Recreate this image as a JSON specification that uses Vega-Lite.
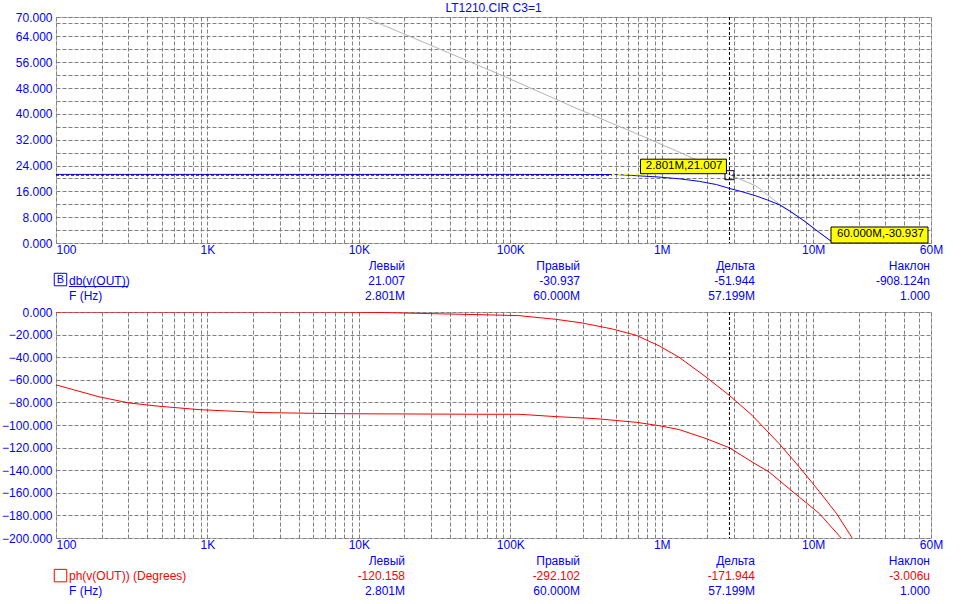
{
  "$schema": "https://vega.github.io/schema/vega-lite/v6.json",
  "background": "white",
  "padding": {"left": 1, "top": 1, "right": 0, "bottom": 0},
  "spacing": 0,
  "bounds": "flush",
  "config": {
    "font": "Liberation Sans",
    "view": {"stroke": "#808080", "strokeDash": [1, 1]},
    "axis": {
      "ticks": false, "tickSize": 0, "domain": false, "grid": true,
      "gridColor": "#808080", "gridDash": [4, 2], "gridWidth": 1, "gridOpacity": 1,
      "labelColor": "#0000FF", "labelFont": "Liberation Sans", "labelFontSize": 12,
      "labelOverlap": false
    },
    "axisX": {"labelPadding": 1},
    "axisY": {"labelPadding": 4}
  },
  "datasets": {
    "gain": [
      {"series": "ref", "f": 10800, "v": 70},
      {"series": "ref", "f": 84300, "v": 52.3},
      {"series": "ref", "f": 271000, "v": 41.8},
      {"series": "ref", "f": 826000, "v": 32.2},
      {"series": "ref", "f": 1240000, "v": 28.6},
      {"series": "ref", "f": 2920000, "v": 20.8},
      {"series": "ref", "f": 4180000, "v": 17.7},
      {"series": "ref", "f": 5960000, "v": 12.1},
      {"series": "ref", "f": 8450000, "v": 7.4},
      {"series": "ref", "f": 13100000, "v": 0.6},
      {"series": "ref", "f": 13600000, "v": -0.2},
      {"series": "db", "f": 100, "v": 21.25},
      {"series": "db", "f": 100000, "v": 21.25},
      {"series": "db", "f": 500000, "v": 21.2},
      {"series": "db", "f": 914000, "v": 20.5},
      {"series": "db", "f": 1300000, "v": 19.9},
      {"series": "db", "f": 1770000, "v": 19.1},
      {"series": "db", "f": 2300000, "v": 18.1},
      {"series": "db", "f": 2801000, "v": 16.9},
      {"series": "db", "f": 3500000, "v": 15.7},
      {"series": "db", "f": 4190000, "v": 14.6},
      {"series": "db", "f": 5000000, "v": 13.3},
      {"series": "db", "f": 5960000, "v": 11.9},
      {"series": "db", "f": 7000000, "v": 9.9},
      {"series": "db", "f": 8450000, "v": 7.3},
      {"series": "db", "f": 11000000, "v": 3.2},
      {"series": "db", "f": 13100000, "v": 0.6},
      {"series": "db", "f": 20000000, "v": -7},
      {"series": "db", "f": 30000000, "v": -15},
      {"series": "db", "f": 45000000, "v": -24},
      {"series": "db", "f": 60000000, "v": -30.937}
    ],
    "phase": [
      {"series": "a", "f": 100, "v": 0},
      {"series": "a", "f": 7400, "v": 0},
      {"series": "a", "f": 14700, "v": -0.5},
      {"series": "a", "f": 29100, "v": -1.4},
      {"series": "a", "f": 59400, "v": -2.3},
      {"series": "a", "f": 114000, "v": -3.2},
      {"series": "a", "f": 201000, "v": -6.5},
      {"series": "a", "f": 298000, "v": -9.7},
      {"series": "a", "f": 471000, "v": -15},
      {"series": "a", "f": 678000, "v": -20.6},
      {"series": "a", "f": 962000, "v": -30},
      {"series": "a", "f": 1300000, "v": -40},
      {"series": "a", "f": 1960000, "v": -57.5},
      {"series": "a", "f": 2790000, "v": -73.7},
      {"series": "a", "f": 3950000, "v": -91.4},
      {"series": "a", "f": 5960000, "v": -116.5},
      {"series": "a", "f": 8080000, "v": -137},
      {"series": "a", "f": 11000000, "v": -159},
      {"series": "a", "f": 14200000, "v": -178},
      {"series": "a", "f": 18100000, "v": -200},
      {"series": "a", "f": 30000000, "v": -250},
      {"series": "a", "f": 60000000, "v": -330},
      {"series": "b", "f": 100, "v": -64.5},
      {"series": "b", "f": 192, "v": -75},
      {"series": "b", "f": 303, "v": -80.5},
      {"series": "b", "f": 479, "v": -83.4},
      {"series": "b", "f": 880, "v": -86.4},
      {"series": "b", "f": 2300, "v": -89},
      {"series": "b", "f": 7400, "v": -90},
      {"series": "b", "f": 59400, "v": -90.5},
      {"series": "b", "f": 114000, "v": -90.5},
      {"series": "b", "f": 201000, "v": -92.6},
      {"series": "b", "f": 369000, "v": -94.4},
      {"series": "b", "f": 678000, "v": -97.6},
      {"series": "b", "f": 962000, "v": -100.6},
      {"series": "b", "f": 1300000, "v": -104},
      {"series": "b", "f": 1960000, "v": -112},
      {"series": "b", "f": 2801000, "v": -120.158},
      {"series": "b", "f": 3950000, "v": -132.7},
      {"series": "b", "f": 5120000, "v": -141.6},
      {"series": "b", "f": 5960000, "v": -149},
      {"series": "b", "f": 8080000, "v": -163.7},
      {"series": "b", "f": 11000000, "v": -178.4},
      {"series": "b", "f": 15300000, "v": -200},
      {"series": "b", "f": 60000000, "v": -292.102}
    ],
    "hcur": [
      {"kind": "cursor", "f1": 100, "f2": 468000, "v": 21.007},
      {"kind": "cursor", "f1": 2900000, "f2": 60000000, "v": 21.007},
      {"kind": "xor", "f1": 468000, "f2": 918000, "v": 21.25}
    ],
    "tags": [
      {"id": "L", "f": 2801000, "v": 21.007, "text": "2.801M,21.007"},
      {"id": "R", "f": 60000000, "v": 0, "text": "60.000M,-30.937"}
    ],
    "table": [
      {"panel": "db", "row": "h", "col": "Левый", "text": "Левый", "trace": "axis"},
      {"panel": "db", "row": "h", "col": "Правый", "text": "Правый", "trace": "axis"},
      {"panel": "db", "row": "h", "col": "Дельта", "text": "Дельта", "trace": "axis"},
      {"panel": "db", "row": "h", "col": "Наклон", "text": "Наклон", "trace": "axis"},
      {"panel": "db", "row": "v", "col": "Левый", "text": "21.007", "trace": "db"},
      {"panel": "db", "row": "v", "col": "Правый", "text": "-30.937", "trace": "db"},
      {"panel": "db", "row": "v", "col": "Дельта", "text": "-51.944", "trace": "db"},
      {"panel": "db", "row": "v", "col": "Наклон", "text": "-908.124n", "trace": "db"},
      {"panel": "db", "row": "f", "col": "Левый", "text": "2.801M", "trace": "axis"},
      {"panel": "db", "row": "f", "col": "Правый", "text": "60.000M", "trace": "axis"},
      {"panel": "db", "row": "f", "col": "Дельта", "text": "57.199M", "trace": "axis"},
      {"panel": "db", "row": "f", "col": "Наклон", "text": "1.000", "trace": "axis"},
      {"panel": "db", "row": "v", "col": "name", "text": "db(v(OUT))", "trace": "db"},
      {"panel": "db", "row": "f", "col": "name", "text": "F (Hz)", "trace": "axis"},
      {"panel": "ph", "row": "h", "col": "Левый", "text": "Левый", "trace": "axis"},
      {"panel": "ph", "row": "h", "col": "Правый", "text": "Правый", "trace": "axis"},
      {"panel": "ph", "row": "h", "col": "Дельта", "text": "Дельта", "trace": "axis"},
      {"panel": "ph", "row": "h", "col": "Наклон", "text": "Наклон", "trace": "axis"},
      {"panel": "ph", "row": "v", "col": "Левый", "text": "-120.158", "trace": "ph"},
      {"panel": "ph", "row": "v", "col": "Правый", "text": "-292.102", "trace": "ph"},
      {"panel": "ph", "row": "v", "col": "Дельта", "text": "-171.944", "trace": "ph"},
      {"panel": "ph", "row": "v", "col": "Наклон", "text": "-3.006u", "trace": "ph"},
      {"panel": "ph", "row": "f", "col": "Левый", "text": "2.801M", "trace": "axis"},
      {"panel": "ph", "row": "f", "col": "Правый", "text": "60.000M", "trace": "axis"},
      {"panel": "ph", "row": "f", "col": "Дельта", "text": "57.199M", "trace": "axis"},
      {"panel": "ph", "row": "f", "col": "Наклон", "text": "1.000", "trace": "axis"},
      {"panel": "ph", "row": "v", "col": "name", "text": "ph(v(OUT)) (Degrees)", "trace": "ph"},
      {"panel": "ph", "row": "f", "col": "name", "text": "F (Hz)", "trace": "axis"}
    ]
  },
  "vconcat": [
    {
      "width": 875,
      "height": 226,
      "title": {"text": "LT1210.CIR C3=1", "color": "#0000FF", "font": "Liberation Sans", "fontSize": 12, "fontWeight": "normal", "anchor": "middle", "frame": "group", "offset": -13, "baseline": "alphabetic"},
      "layer": [
        {
          "data": {"name": "gain"},
          "mark": {"type": "line", "clip": true, "strokeWidth": 1},
          "encoding": {
            "x": {"field": "f", "type": "quantitative",
              "scale": {"type": "log", "domain": [100, 60000000], "nice": false},
              "axis": {"title": null, "labelOverlap": false, "tickCount": 200,
                "values": [100,200,300,400,500,600,700,800,900,1000,2000,3000,4000,5000,6000,7000,8000,9000,10000,20000,30000,40000,50000,60000,70000,80000,90000,100000,200000,300000,400000,500000,600000,700000,800000,900000,1000000,2000000,3000000,4000000,5000000,6000000,7000000,8000000,9000000,10000000,20000000,30000000,40000000,50000000,60000000],
                "labelExpr": "datum.value == 100 ? '100' : datum.value == 1000 ? '1K' : datum.value == 10000 ? '10K' : datum.value == 100000 ? '100K' : datum.value == 1000000 ? '1M' : datum.value == 10000000 ? '10M' : datum.value == 60000000 ? '60M' : ''",
                "labelAlign": {"condition": {"test": "datum.value <= 100", "value": "left"}, "value": "center"}}},
            "y": {"field": "v", "type": "quantitative",
              "scale": {"domain": [0, 70], "nice": false, "zero": false},
              "axis": {"title": null, "format": ".3f", "labelOverlap": false, "tickCount": 100,
                "values": [0,4,8,12,16,20,24,28,32,36,40,44,48,52,56,60,64,68,70],
                "labelExpr": "(datum.value % 8 == 0 || datum.value == 70) ? datum.label : ''"}},
            "color": {"field": "series", "type": "nominal",
              "scale": {"domain": ["ref", "db", "axis", "ph"], "range": ["#B4B4B4", "#0000FF", "#0000FF", "#FF0000"]}, "legend": null},
            "order": {"field": "f", "type": "quantitative"}
          }
        },
        {
          "data": {"name": "hcur"},
          "transform": [{"filter": "datum.kind == 'cursor'"}],
          "mark": {"type": "rule", "color": "#000000", "strokeDash": [3, 2], "strokeWidth": 1},
          "encoding": {"x": {"field": "f1", "type": "quantitative"}, "x2": {"field": "f2"}, "y": {"field": "v", "type": "quantitative"}}
        },
        {
          "data": {"name": "hcur"},
          "transform": [{"filter": "datum.kind == 'xor'"}],
          "mark": {"type": "rule", "color": "#FFFF00", "strokeDash": [3, 3], "strokeWidth": 1.5},
          "encoding": {"x": {"field": "f1", "type": "quantitative"}, "x2": {"field": "f2"}, "y": {"field": "v", "type": "quantitative"}}
        },
        {
          "data": {"values": [{"f": 2801000}]},
          "mark": {"type": "rule", "color": "#000000", "strokeDash": [3, 2], "strokeWidth": 1},
          "encoding": {"x": {"field": "f", "type": "quantitative"}}
        },
        {
          "data": {"name": "tags"},
          "transform": [{"filter": "datum.id == 'L'"}],
          "mark": {"type": "point", "shape": "square", "size": 81, "filled": false, "stroke": "#000000", "strokeWidth": 1, "opacity": 1},
          "encoding": {"x": {"field": "f", "type": "quantitative"}, "y": {"field": "v", "type": "quantitative"}}
        },
        {
          "data": {"name": "tags"},
          "transform": [{"filter": "datum.id == 'L'"}],
          "mark": {"type": "rect", "fill": "#FFFF00", "stroke": "#000000", "strokeWidth": 1, "xOffset": -89, "x2Offset": -3, "yOffset": -16, "y2Offset": -1.5},
          "encoding": {"x": {"field": "f", "type": "quantitative"}, "x2": {"field": "f"}, "y": {"field": "v", "type": "quantitative"}, "y2": {"field": "v"}}
        },
        {
          "data": {"name": "tags"},
          "transform": [{"filter": "datum.id == 'R'"}],
          "mark": {"type": "rect", "fill": "#FFFF00", "stroke": "#000000", "strokeWidth": 1, "xOffset": -100, "x2Offset": -3, "yOffset": -16, "y2Offset": 0},
          "encoding": {"x": {"field": "f", "type": "quantitative"}, "x2": {"field": "f"}, "y": {"field": "v", "type": "quantitative"}, "y2": {"field": "v"}}
        },
        {
          "data": {"name": "tags"},
          "mark": {"type": "text", "align": "right", "baseline": "middle", "dx": -7, "dy": -9, "fontSize": 11.5, "color": "#000000"},
          "encoding": {"x": {"field": "f", "type": "quantitative"}, "y": {"field": "v", "type": "quantitative"}, "text": {"field": "text"}}
        }
      ]
    },
    {
      "width": 875,
      "height": 69,
      "view": {"stroke": null},
      "data": {"name": "table"},
      "transform": [{"filter": "datum.panel == 'db'"}],
      "layer": [
        {
          "transform": [{"filter": "datum.col != 'name'"}],
          "mark": {"type": "text", "align": "right", "baseline": "middle", "fontSize": 12, "dx": -1},
          "encoding": {
            "x": {"field": "col", "type": "nominal", "scale": {"type": "point", "domain": ["Левый", "Правый", "Дельта", "Наклон"], "padding": 1, "align": 1}, "axis": null},
            "y": {"field": "row", "type": "nominal", "scale": {"type": "point", "domain": ["h", "v", "f", "end"], "padding": 0.8, "align": 0.96}, "axis": null},
            "text": {"field": "text"},
            "color": {"field": "trace", "type": "nominal", "scale": {"domain": ["ref", "db", "axis", "ph"], "range": ["#B4B4B4", "#0000FF", "#0000FF", "#FF0000"]}, "legend": null}
          }
        },
        {
          "transform": [{"filter": "datum.col == 'name'"}],
          "layer": [
            {
              "mark": {"type": "text", "align": "left", "baseline": "middle", "fontSize": 12, "dx": 13},
              "encoding": {
                "x": {"field": "col", "type": "nominal", "scale": {"type": "point", "domain": ["name"], "padding": 0.5, "align": 0}, "axis": null},
                "y": {"field": "row", "type": "nominal", "scale": {"type": "point", "domain": ["h", "v", "f", "end"], "padding": 0.8, "align": 0.96}, "axis": null},
                "text": {"field": "text"},
                "color": {"field": "trace", "type": "nominal", "scale": {"domain": ["ref", "db", "axis", "ph"], "range": ["#B4B4B4", "#0000FF", "#0000FF", "#FF0000"]}, "legend": null}
              }
            },
            {
              "transform": [{"filter": "datum.row == 'v'"}],
              "mark": {"type": "rule", "color": "#0000FF", "strokeWidth": 1, "xOffset": 13, "x2Offset": 72, "yOffset": 5.5, "y2Offset": 5.5},
              "encoding": {
                "x": {"field": "col", "type": "nominal", "scale": {"type": "point", "domain": ["name"], "padding": 0.5, "align": 0}, "axis": null},
                "x2": {"field": "col"},
                "y": {"field": "row", "type": "nominal", "scale": {"type": "point", "domain": ["h", "v", "f", "end"], "padding": 0.8, "align": 0.96}, "axis": null}
              }
            },
            {
              "transform": [{"filter": "datum.row == 'v'"}],
              "mark": {"type": "point", "shape": "square", "size": 156, "filled": false, "stroke": "#0000FF", "strokeWidth": 1, "opacity": 1, "xOffset": 4.5, "yOffset": -1.5},
              "encoding": {
                "x": {"field": "col", "type": "nominal", "scale": {"type": "point", "domain": ["name"], "padding": 0.5, "align": 0}, "axis": null},
                "y": {"field": "row", "type": "nominal", "scale": {"type": "point", "domain": ["h", "v", "f", "end"], "padding": 0.8, "align": 0.96}, "axis": null}
              }
            },
            {
              "transform": [{"filter": "datum.row == 'v'"}],
              "mark": {"type": "text", "text": "B", "align": "center", "baseline": "middle", "fontSize": 11, "color": "#0000FF", "dx": 4.5, "dy": -1},
              "encoding": {
                "x": {"field": "col", "type": "nominal", "scale": {"type": "point", "domain": ["name"], "padding": 0.5, "align": 0}, "axis": null},
                "y": {"field": "row", "type": "nominal", "scale": {"type": "point", "domain": ["h", "v", "f", "end"], "padding": 0.8, "align": 0.96}, "axis": null}
              }
            }
          ]
        }
      ],
      "resolve": {"scale": {"x": "independent"}}
    },
    {
      "width": 875,
      "height": 226,
      "layer": [
        {
          "data": {"name": "phase"},
          "mark": {"type": "line", "clip": true, "strokeWidth": 1, "color": "#FF0000"},
          "encoding": {
            "x": {"field": "f", "type": "quantitative",
              "scale": {"type": "log", "domain": [100, 60000000], "nice": false},
              "axis": {"title": null, "labelOverlap": false, "tickCount": 200,
                "values": [100,200,300,400,500,600,700,800,900,1000,2000,3000,4000,5000,6000,7000,8000,9000,10000,20000,30000,40000,50000,60000,70000,80000,90000,100000,200000,300000,400000,500000,600000,700000,800000,900000,1000000,2000000,3000000,4000000,5000000,6000000,7000000,8000000,9000000,10000000,20000000,30000000,40000000,50000000,60000000],
                "labelExpr": "datum.value == 100 ? '100' : datum.value == 1000 ? '1K' : datum.value == 10000 ? '10K' : datum.value == 100000 ? '100K' : datum.value == 1000000 ? '1M' : datum.value == 10000000 ? '10M' : datum.value == 60000000 ? '60M' : ''",
                "labelAlign": {"condition": {"test": "datum.value <= 100", "value": "left"}, "value": "center"}}},
            "y": {"field": "v", "type": "quantitative",
              "scale": {"domain": [-200, 0], "nice": false, "zero": false},
              "axis": {"title": null, "format": ".3f", "labelOverlap": false, "tickCount": 100,
                "values": [-200,-180,-160,-140,-120,-100,-80,-60,-40,-20,0]}},
            "detail": {"field": "series", "type": "nominal"},
            "order": {"field": "f", "type": "quantitative"}
          }
        },
        {
          "data": {"values": [{"f": 2801000}]},
          "mark": {"type": "rule", "color": "#000000", "strokeDash": [3, 2], "strokeWidth": 1},
          "encoding": {"x": {"field": "f", "type": "quantitative"}}
        }
      ]
    },
    {
      "width": 875,
      "height": 60,
      "view": {"stroke": null},
      "data": {"name": "table"},
      "transform": [{"filter": "datum.panel == 'ph'"}],
      "layer": [
        {
          "transform": [{"filter": "datum.col != 'name'"}],
          "mark": {"type": "text", "align": "right", "baseline": "middle", "fontSize": 12, "dx": -1},
          "encoding": {
            "x": {"field": "col", "type": "nominal", "scale": {"type": "point", "domain": ["Левый", "Правый", "Дельта", "Наклон"], "padding": 1, "align": 1}, "axis": null},
            "y": {"field": "row", "type": "nominal", "scale": {"type": "point", "domain": ["h", "v", "f"], "padding": 1, "align": 0.77}, "axis": null},
            "text": {"field": "text"},
            "color": {"field": "trace", "type": "nominal", "scale": {"domain": ["ref", "db", "axis", "ph"], "range": ["#B4B4B4", "#0000FF", "#0000FF", "#FF0000"]}, "legend": null}
          }
        },
        {
          "transform": [{"filter": "datum.col == 'name'"}],
          "layer": [
            {
              "mark": {"type": "text", "align": "left", "baseline": "middle", "fontSize": 12, "dx": 13},
              "encoding": {
                "x": {"field": "col", "type": "nominal", "scale": {"type": "point", "domain": ["name"], "padding": 0.5, "align": 0}, "axis": null},
                "y": {"field": "row", "type": "nominal", "scale": {"type": "point", "domain": ["h", "v", "f"], "padding": 1, "align": 0.77}, "axis": null},
                "text": {"field": "text"},
                "color": {"field": "trace", "type": "nominal", "scale": {"domain": ["ref", "db", "axis", "ph"], "range": ["#B4B4B4", "#0000FF", "#0000FF", "#FF0000"]}, "legend": null}
              }
            },
            {
              "transform": [{"filter": "datum.row == 'v'"}],
              "mark": {"type": "point", "shape": "square", "size": 156, "filled": false, "stroke": "#FF0000", "strokeWidth": 1, "opacity": 1, "xOffset": 4.5, "yOffset": -0.5},
              "encoding": {
                "x": {"field": "col", "type": "nominal", "scale": {"type": "point", "domain": ["name"], "padding": 0.5, "align": 0}, "axis": null},
                "y": {"field": "row", "type": "nominal", "scale": {"type": "point", "domain": ["h", "v", "f"], "padding": 1, "align": 0.77}, "axis": null}
              }
            }
          ]
        }
      ],
      "resolve": {"scale": {"x": "independent"}}
    }
  ]
}
